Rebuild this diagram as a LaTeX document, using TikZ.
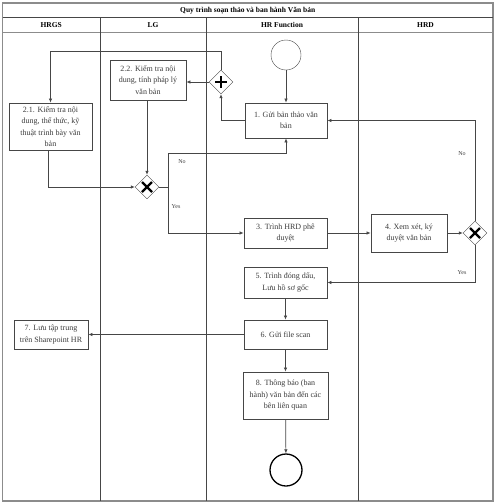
\documentclass[tikz,border=0pt]{standalone}
\usepackage{fontspec}
\setmainfont{Liberation Serif}
\usetikzlibrary{arrows.meta, positioning, shapes.geometric, calc}
\definecolor{DG}{RGB}{70,70,70}
\definecolor{FR}{RGB}{140,140,140}
\definecolor{TX}{RGB}{60,60,60}

\begin{document}
\begin{tikzpicture}[x=1pt, y=-1pt,
  task/.style={draw=DG, fill=white, line width=0.8pt,
               inner sep=1pt, align=center, text=TX,
               font=\fontsize{8}{11.5}\selectfont},
  gate/.style={draw=DG, fill=white, diamond, aspect=1,
               minimum width=24pt, minimum height=24pt, inner sep=0pt},
  evt/.style={draw=DG, circle, inner sep=0pt},
  lane/.style={font=\fontsize{7.5}{9}\selectfont\bfseries},
  lbl/.style={font=\fontsize{6}{7}\selectfont, text=TX},
  arr/.style={-{Latex[length=4pt,width=3.5pt]}, line width=0.7pt, draw=DG}
]
\useasboundingbox (0,0) rectangle (495,504);

% Pool frame and lanes
\draw[FR, line width=1.2pt] (2.5,3) rectangle (493,501);
\draw[DG, line width=0.6pt] (2.5,17.5) -- (493,17.5);
\draw[FR, line width=1pt] (2.5,32.5) -- (493,32.5);
\foreach \lx in {100,206,358}
  \draw[DG, line width=0.8pt] (\lx,17.5) -- (\lx,501);
\node[lane] (title) at (247.75,10.5) {Quy trình soạn thảo và ban hành Văn bản};
\node[lane] (hrgs) at (51.25,25)  {HRGS};
\node[lane] (lg)   at (153,25)    {LG};
\node[lane] (hrf)  at (282,25)    {HR Function};
\node[lane] (hrd)  at (425.5,25)  {HRD};

% Events
\node[evt, minimum size=30pt] (start) at (286,55) {};
\node[evt, minimum size=32pt, line width=1.3pt, draw=black] (end) at (286,470) {};

% Tasks
\node[task, minimum width=82pt, minimum height=35pt] (t1)  at (286,120.5)  {1. Gửi bản thảo văn\\bản};
\node[task, minimum width=76pt, minimum height=40pt] (t22) at (148,80)     {2.2. Kiểm tra nội\\dung, tính pháp lý\\văn bản};
\node[task, minimum width=83pt, minimum height=47pt] (t21) at (50.5,126.5) {2.1. Kiểm tra nội\\dung, thể thức, kỹ\\thuật trình bày văn\\bản};
\node[task, minimum width=83pt, minimum height=30pt] (t3)  at (285.5,233)  {3. Trình HRD phê\\duyệt};
\node[task, minimum width=76pt, minimum height=38pt] (t4)  at (409,233)    {4. Xem xét, ký\\duyệt văn bản};
\node[task, minimum width=83pt, minimum height=31pt] (t5)  at (285.5,282.5){5. Trình đóng dấu,\\Lưu hồ sơ gốc};
\node[task, minimum width=83pt, minimum height=29pt] (t6)  at (285.5,334.5){6. Gửi file scan};
\node[task, minimum width=74pt, minimum height=29pt] (t7)  at (51,334.5)   {7. Lưu tập trung\\trên Sharepoint HR};
\node[task, minimum width=85pt, minimum height=47pt] (t8)  at (285.5,395.5){8. Thông báo (ban\\hành) văn bản đến các\\bên liên quan};

% Gateways
\node[gate] (plus) at (221,82) {};
\draw[black, line width=2.6pt] ($(plus)+(-6,0)$) -- ($(plus)+(6,0)$)
  ($(plus)+(0,-6)$) -- ($(plus)+(0,6)$);
\node[gate] (xlg) at (147,187) {};
\node[gate] (xhrd) at (475,233) {};
\foreach \g in {xlg,xhrd}
  \draw[black, line width=2.2pt] ($(\g)+(-5,-5)$) -- ($(\g)+(5,5)$)
    ($(\g)+(-5,5)$) -- ($(\g)+(5,-5)$);

% Helper points
\coordinate (loopTop) at (221,51);
\coordinate (split) at (168,187);
\coordinate (noLG) at (168,153);

% Connectors
\draw[arr] (start) -- (t1);
\draw[arr] (t1.west) -| (plus.south);
\draw[arr] (plus.west) -- (plus.west -| t22.east);
\draw[arr] (plus.north) -- (loopTop) -| (t21.north);
\draw[arr] (t22.south -| xlg.north) -- (xlg.north);
\draw[arr] (t21.south -| 48,0) |- (xlg.west);
\draw[DG, line width=0.7pt] (xlg.east) -- (split);
\draw[arr] (split) -- (noLG) -| (t1.south);
\draw[arr] (split) |- (t3.west);
\draw[arr] (t3) -- (t4);
\draw[arr] (t4) -- (xhrd.west);
\draw[arr] (xhrd.north) |- (t1.east);
\draw[arr] (xhrd.south) |- (t5.east);
\draw[arr] (t5) -- (t6);
\draw[arr] (t6) -- (t7);
\draw[arr] (t6) -- (t8);
\draw[arr] (t8) -- (end);

% Branch labels
\node[lbl] (noA)  at (182,162) {No};
\node[lbl] (yesA) at (176,207) {Yes};
\node[lbl] (noB)  at (462,154) {No};
\node[lbl] (yesB) at (462,273) {Yes};
\end{tikzpicture}
\end{document}
